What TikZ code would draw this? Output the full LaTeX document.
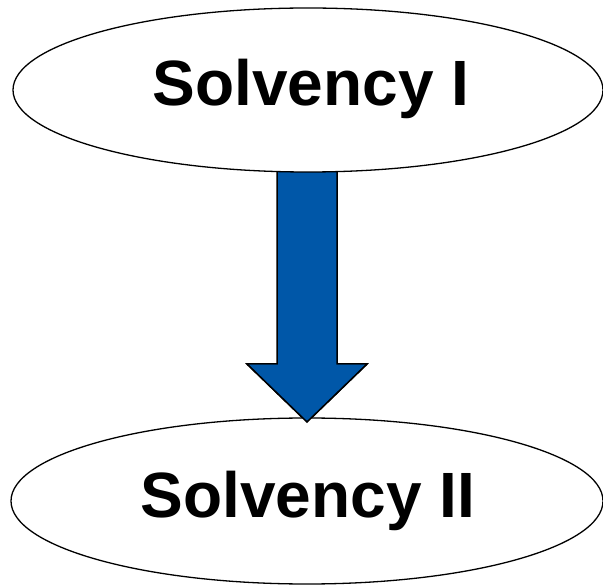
\documentclass[tikz,border=0pt]{standalone}
\usepackage{fontspec}
\setmainfont{Liberation Sans}
\usetikzlibrary{shapes.geometric}
\definecolor{arrowblue}{RGB}{0,87,168}
\begin{document}
\begin{tikzpicture}[x=1pt,y=1pt,
  stage/.style={ellipse,draw=black,line width=1.3pt,fill=white,inner sep=0pt},
  stagetext/.style={font=\bfseries\fontsize{64}{70}\selectfont,inner sep=0pt,anchor=base},
  bigarrow/.style={fill=arrowblue,draw=black,line width=1.5pt,line join=miter}]
\useasboundingbox (0,0) rectangle (603,587);
% shafts and head of the block arrow, behind the top ellipse
\coordinate (tip) at (307,165);
\draw[bigarrow] (277,440) -- (277,223) -- (247,223) -- (tip) -- (367,223) -- (337,223) -- (337,440) -- cycle;
\node[stage,minimum width=590,minimum height=164] (s1) at (308,497) {};
\node[stage,minimum width=592,minimum height=166] (s2) at (307,86) {};
% redraw the arrow head over the lower ellipse outline
\fill[arrowblue] (249,222) -- (tip) -- (365,222) -- cycle;
\draw[line width=1.5pt,line join=miter] (247,223) -- (tip) -- (367,223);
\node[stagetext] (t1) at (311,481) {Solvency I};
\node[stagetext] (t2) at (308,70) {Solvency II};
\end{tikzpicture}
\end{document}
